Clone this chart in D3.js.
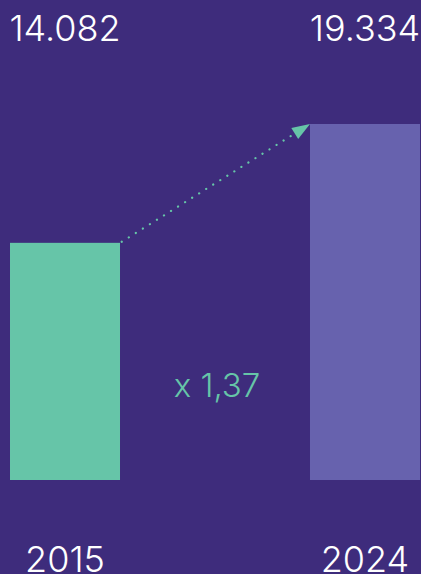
<!DOCTYPE html>
<html>
<head>
<meta charset="utf-8">
<script src="https://cdn.jsdelivr.net/npm/d3@7"></script>
<style>
  html, body { margin: 0; padding: 0; background: #3e2c7c; }
  svg { display: block; }
  text { font-family: Inter, "Open Sans", sans-serif; font-weight: 300; fill: #ffffff; }
</style>
</head>
<body>
<script>
(function(){

//chart data
var years = ["2015", "2024"];
var values = [14082, 19334];
var valueLabels = ["14.082", "19.334"];
var growthLabel = "x 1,37";
var barColors = ["#66c5a8", "#6762ae"];

window.onload = drawChart();

function drawChart(){

    var width = 421,
        height = 574;

    var svg = d3.select("body")
        .append("svg")
        .attr("width", width)
        .attr("height", height);

    svg.append("rect")
        .attr("width", width)
        .attr("height", height)
        .attr("fill", "#3e2c7c");

    //band scale for the two years
    var x = d3.scaleBand()
        .domain(years)
        .range([10, 420])
        .paddingInner(0.6333)
        .paddingOuter(0);

    //linear scale, baseline is not zero in the original design
    var y = d3.scaleLinear()
        .domain([3600, 19334])
        .range([480, 124]);

    //bars
    svg.selectAll(".bar")
        .data(values)
        .enter()
        .append("rect")
        .attr("class", "bar")
        .attr("x", function(d, i){ return x(years[i]); })
        .attr("y", function(d){ return y(d); })
        .attr("width", x.bandwidth())
        .attr("height", function(d){ return y.range()[0] - y(d); })
        .attr("fill", function(d, i){ return barColors[i]; });

    //value labels on top
    svg.selectAll(".valueLabel")
        .data(valueLabels)
        .enter()
        .append("text")
        .attr("class", "valueLabel")
        .attr("x", function(d, i){ return x(years[i]) + x.bandwidth() / 2; })
        .attr("y", 41)
        .attr("text-anchor", "middle")
        .style("font-size", "36px")
        .text(function(d){ return d; });

    //year labels at bottom
    svg.selectAll(".yearLabel")
        .data(years)
        .enter()
        .append("text")
        .attr("class", "yearLabel")
        .attr("x", function(d){ return x(d) + x.bandwidth() / 2; })
        .attr("y", 572)
        .attr("text-anchor", "middle")
        .style("font-size", "36px")
        .text(function(d){ return d; });

    //dotted arrow from top of first bar to top of second bar
    var x0 = x(years[0]) + x.bandwidth(), y0 = y(values[0]),
        x1 = x(years[1]), y1 = y(values[1]);
    var dx = x1 - x0, dy = y1 - y0,
        len = Math.sqrt(dx * dx + dy * dy),
        ux = dx / len, uy = dy / len;
    var headLen = 18, headHalf = 6.5;
    var bx = x1 - ux * headLen, by = y1 - uy * headLen;

    svg.append("line")
        .attr("x1", x0 + ux * 2)
        .attr("y1", y0 + uy * 2)
        .attr("x2", bx)
        .attr("y2", by)
        .attr("stroke", barColors[0])
        .attr("stroke-width", 2.2)
        .attr("stroke-linecap", "round")
        .attr("stroke-dasharray", "0.1,8.2");

    svg.append("polygon")
        .attr("points", [
            [x1, y1],
            [bx - uy * headHalf, by + ux * headHalf],
            [bx + uy * headHalf, by - ux * headHalf]
        ].map(function(p){ return p.join(","); }).join(" "))
        .attr("fill", barColors[0]);

    //growth label between bars
    svg.append("text")
        .attr("x", (x0 + x1) / 2 + 2)
        .attr("y", 397)
        .attr("text-anchor", "middle")
        .style("font-size", "33px")
        .style("fill", barColors[0])
        .text(growthLabel);
};

})();
</script>
</body>
</html>
